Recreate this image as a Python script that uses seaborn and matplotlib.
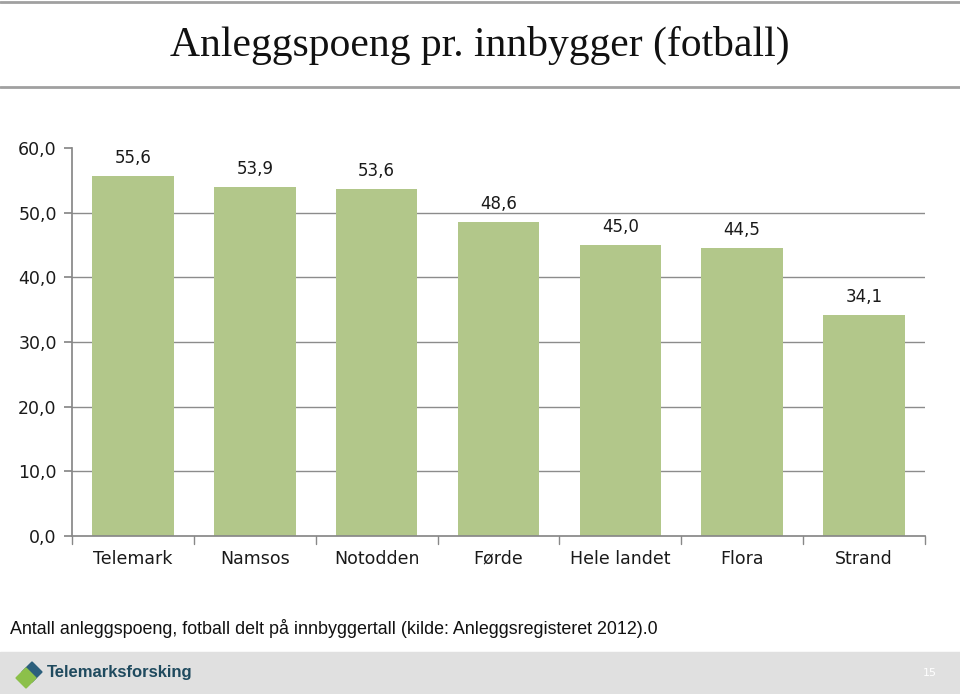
import matplotlib
matplotlib.use("Agg")
import matplotlib.pyplot as plt
import seaborn as sns
import pandas as pd
from matplotlib.patches import Rectangle, Polygon

categories = ["Telemark", "Namsos", "Notodden", "Førde", "Hele landet", "Flora", "Strand"]
values = [55.6, 53.9, 53.6, 48.6, 45.0, 44.5, 34.1]
yticks = [0, 10, 20, 30, 40, 50, 60]

title = "Anleggspoeng pr. innbygger (fotball)"
caption = "Antall anleggspoeng, fotball delt på innbyggertall (kilde: Anleggsregisteret 2012).0"

sns.set_theme(style="white")
plt.rcParams['font.family'] = ['DejaVu Sans']

fig = plt.figure(figsize=(9.6, 6.94), dpi=100)
ax = fig.add_axes([0.075, 0.2277, 0.8885, 0.559])

df = pd.DataFrame({"cat": categories, "val": values})
sns.barplot(data=df, x="cat", y="val", color="#b2c78a", saturation=1, width=0.67,
            linewidth=0, ax=ax)

ax.set_ylim(0, 60)
ax.set_xlim(-0.5, len(categories) - 0.5)
ax.set_yticks(yticks)
ax.set_yticklabels([f"{v:.1f}".replace(".", ",") for v in yticks], fontsize=12.5, color="#1a1a1a")
ax.set_xlabel("")
ax.set_ylabel("")
ax.set_xticks(range(len(categories)))
ax.set_xticklabels(categories, fontsize=12.5, color="#1a1a1a")
ax.tick_params(axis="x", length=0, pad=10)
ax.tick_params(axis="y", length=6, color="#888888", direction="out", left=True, pad=5)
for y in yticks[1:-1]:
    ax.axhline(y, color="#8c8c8c", lw=1, zorder=0)
ax.set_axisbelow(True)
for s in ["top", "right"]:
    ax.spines[s].set_visible(False)
ax.spines["left"].set_color("#888888")
ax.spines["bottom"].set_color("#888888")
for i in range(len(categories) + 1):
    ax.plot([i - 0.5, i - 0.5], [0, -1.3], color="#888888", lw=1, clip_on=False)

for i, v in enumerate(values):
    ax.text(i, v + 1.4, f"{v:.1f}".replace(".", ","), ha="center", va="bottom", fontsize=12, color="#1a1a1a")

fig.text(0.5, 1 - 45 / 694, title, ha="center", va="center", fontsize=30,
         family=["Liberation Serif", "DejaVu Serif"], color="#111111")
fig.add_artist(plt.Line2D([0, 1], [1 - 2 / 694, 1 - 2 / 694], color="#a0a0a0", lw=2))
fig.add_artist(plt.Line2D([0, 1], [1 - 87 / 694, 1 - 87 / 694], color="#a0a0a0", lw=2))

fig.text(10 / 960, 1 - 628 / 694, caption, ha="left", va="center", fontsize=12.9,
         family=["Liberation Sans", "DejaVu Sans"], color="#111111")

fig.add_artist(Rectangle((0, 0), 1, 42 / 694, transform=fig.transFigure, color="#e0e0e0", zorder=0))
fig.add_artist(Polygon([(22 / 960, 1 - 672 / 694), (32 / 960, 1 - 662 / 694), (42 / 960, 1 - 672 / 694), (32 / 960, 1 - 682 / 694)],
                       closed=True, transform=fig.transFigure, color="#2c5f7c"))
fig.add_artist(Polygon([(16 / 960, 1 - 678 / 694), (26 / 960, 1 - 668 / 694), (36 / 960, 1 - 678 / 694), (26 / 960, 1 - 688 / 694)],
                       closed=True, transform=fig.transFigure, color="#8cc04a"))
fig.text(47 / 960, 1 - 673 / 694, "Telemarksforsking", ha="left", va="center", fontsize=12,
         family=["Liberation Sans", "DejaVu Sans"], color="#1f4a5e", fontweight="bold")
fig.text(930 / 960, 1 - 673 / 694, "15", ha="center", va="center", fontsize=8, color="white")

fig.savefig("out.png", dpi=100)
